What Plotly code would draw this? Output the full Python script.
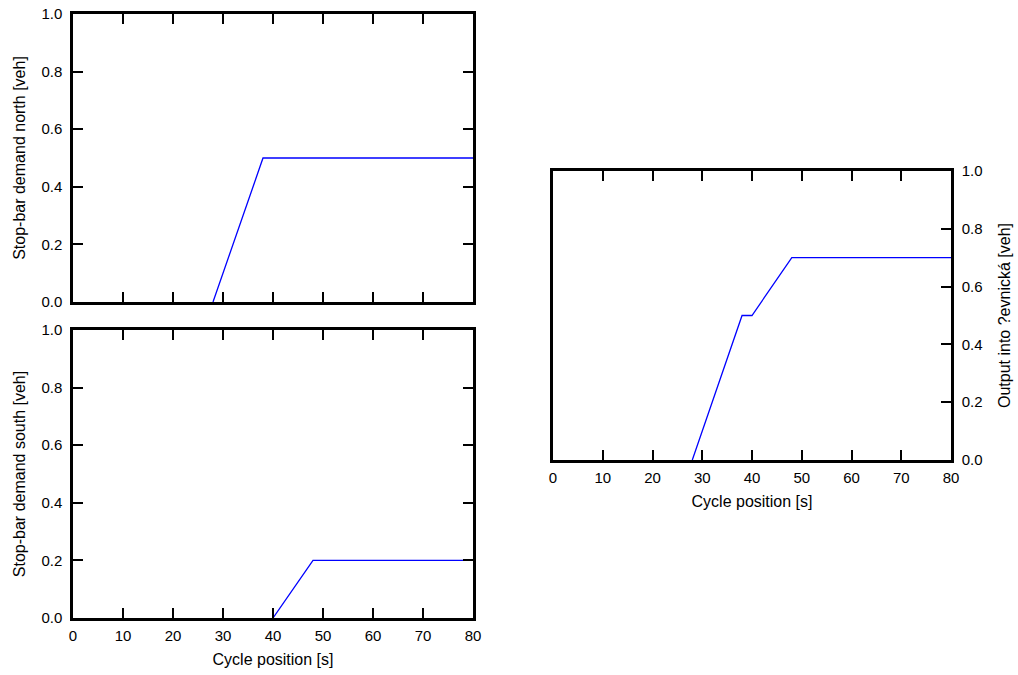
import plotly.graph_objects as go

# Data
north_t = [28, 38, 80]
north_v = [0.0, 0.5, 0.5]
south_t = [40, 48, 80]
south_v = [0.0, 0.2, 0.2]
out_t = [28, 38, 40, 48, 80]
out_v = [0.0, 0.5, 0.5, 0.7, 0.7]

x_ticks = [0, 10, 20, 30, 40, 50, 60, 70, 80]
y_ticks = [0.0, 0.2, 0.4, 0.6, 0.8, 1.0]
y_labels = ["0.0", "0.2", "0.4", "0.6", "0.8", "1.0"]

# body margin is removed in the page, so the figure fills the window from (0, 0)
OFF = 0
W, H = 1018, 675
TICKFONT = dict(family="Liberation Sans, Arial, sans-serif", size=15, color="black")
TITLEFONT = dict(family="Liberation Sans, Arial, sans-serif", size=16, color="black")
LINE = dict(color="#0000ff", width=1.3)

fig = go.Figure()
fig.add_trace(go.Scatter(x=north_t, y=north_v, mode="lines", line=LINE, xaxis="x", yaxis="y", showlegend=False))
fig.add_trace(go.Scatter(x=south_t, y=south_v, mode="lines", line=LINE, xaxis="x2", yaxis="y2", showlegend=False))
fig.add_trace(go.Scatter(x=out_t, y=out_v, mode="lines", line=LINE, xaxis="x3", yaxis="y3", showlegend=False))

def px_x(a, b):
    return [(a - OFF) / W, (b - OFF) / W]

def px_y(top, bottom):
    return [1 - (bottom - OFF) / H, 1 - (top - OFF) / H]

common_x = dict(range=[0, 80], tickvals=x_ticks, ticks="inside", ticklen=10, tickwidth=1.5,
                tickcolor="black", showline=True, linecolor="black", linewidth=2.5,
                showgrid=False, zeroline=False, tickfont=TICKFONT, mirror="ticks",
                automargin=False, ticklabelstandoff=2, ticklabeloverflow="allow")
common_y = dict(range=[0, 1], tickvals=y_ticks, ticktext=y_labels, ticks="inside", ticklen=10,
                tickwidth=1.5, tickcolor="black", showline=True, linecolor="black", linewidth=2.5,
                showgrid=False, zeroline=False, tickfont=TICKFONT, automargin=False,
                ticklabelstandoff=5, ticklabeloverflow="allow")

fig.update_layout(
    width=W, height=H,
    margin=dict(l=0, r=0, t=0, b=0),
    paper_bgcolor="white", plot_bgcolor="white",
    font=TICKFONT,
    xaxis=dict(common_x, domain=px_x(73, 473), anchor="y", showticklabels=False),
    yaxis=dict(common_y, domain=px_y(14, 302), anchor="x", mirror="ticks",
               title=dict(text="Stop-bar demand north [veh]", font=TITLEFONT, standoff=12)),
    xaxis2=dict(common_x, domain=px_x(73, 473), anchor="y2",
                title=dict(text="Cycle position [s]", font=TITLEFONT, standoff=12)),
    yaxis2=dict(common_y, domain=px_y(330, 618), anchor="x2", mirror="ticks",
                title=dict(text="Stop-bar demand south [veh]", font=TITLEFONT, standoff=12)),
    xaxis3=dict(common_x, domain=px_x(553, 951), anchor="y3",
                title=dict(text="Cycle position [s]", font=TITLEFONT, standoff=12)),
    yaxis3=dict(common_y, domain=px_y(171, 460), anchor="x3", side="right", mirror=True,
                title=dict(text="Output into ?evnická [veh]", font=TITLEFONT, standoff=18)),
)

fig.write_html(
    "out.html",
    config={"displayModeBar": False},
    post_script="document.body.style.margin='0';document.body.style.overflow='hidden';",
)
